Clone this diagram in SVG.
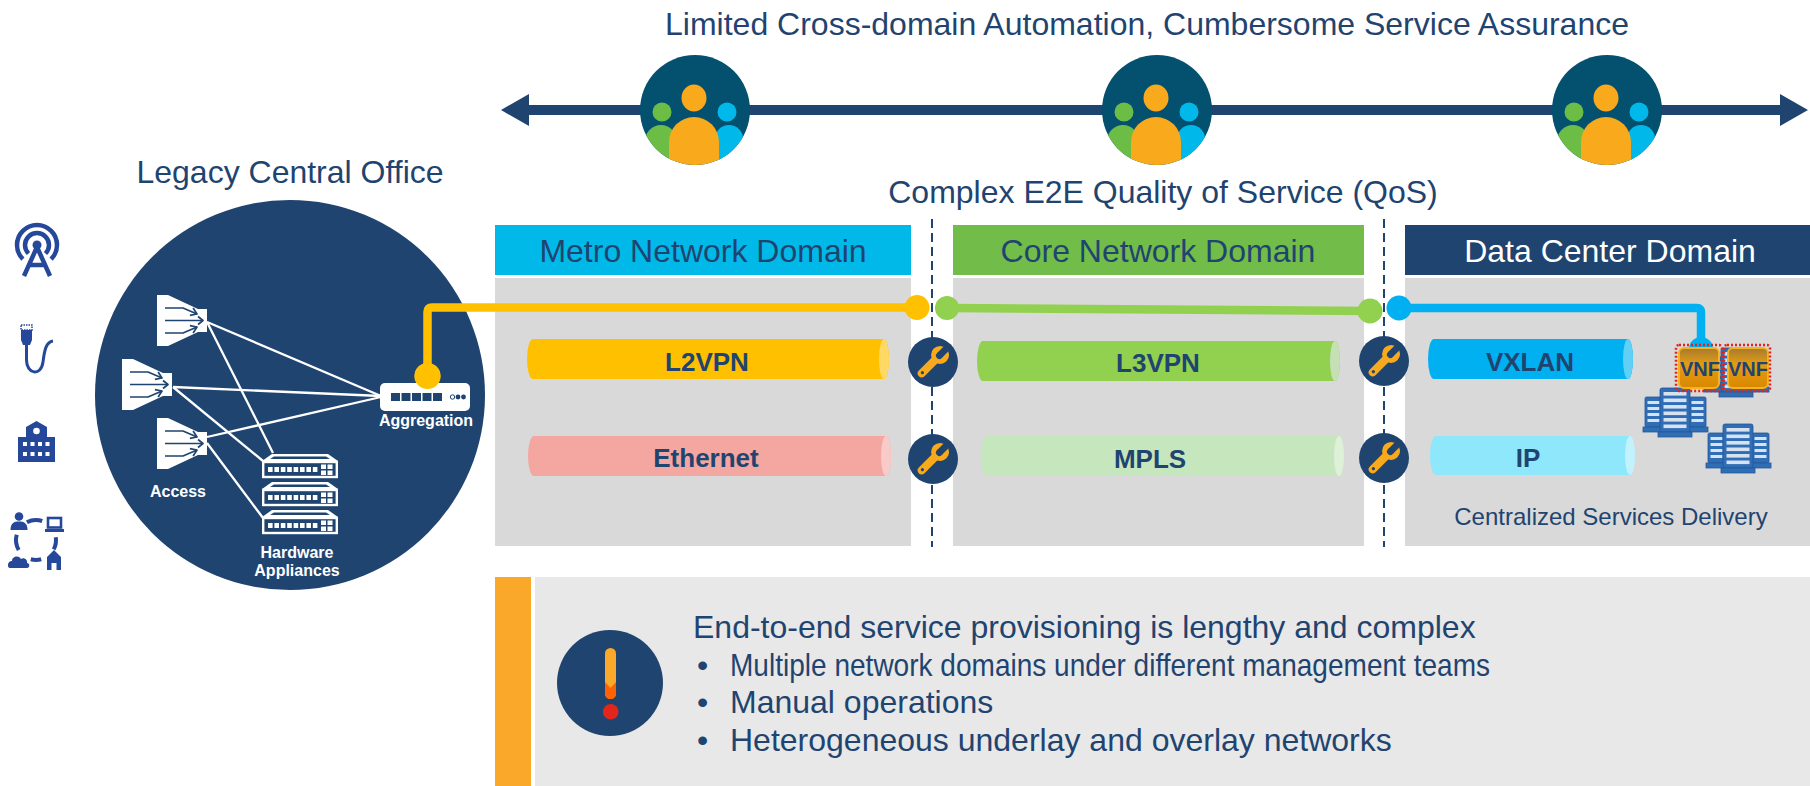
<svg xmlns="http://www.w3.org/2000/svg" xmlns:xlink="http://www.w3.org/1999/xlink" width="1810" height="786" viewBox="0 0 1810 786">
  <style>
    text { font-family: "Liberation Sans", Arial, sans-serif; }
    .t32 { font-size: 32px; fill: #1F4470; }
    .hdr { font-size: 32px; text-anchor: middle; }
    .tube-label { font-size: 26px; font-weight: bold; fill: #1F4470; text-anchor: middle; }
    .dev-label { font-size: 16px; font-weight: bold; fill: #FFFFFF; text-anchor: middle; }
    .vnf-label { font-size: 20px; font-weight: bold; fill: #1F4470; text-anchor: middle; }
    .link { stroke: #FFFFFF; stroke-width: 2.3; fill: none; }
    .divider { stroke: #1F4470; stroke-width: 2; stroke-dasharray: 9 5; fill: none; }
    .icon { fill: #26489B; }
    .icon-line { stroke: #26489B; fill: none; }
    .srv-body { fill: #2F6DB5; stroke: #25579A; stroke-width: 0.8; }
    .srv-slot { fill: #D6E2F0; }
  </style>
  <defs>
    <clipPath id="teamClip"><circle r="55"/></clipPath>
    <linearGradient id="vnfFill" x1="0" y1="0" x2="0" y2="1">
      <stop offset="0" stop-color="#A47A30"/>
      <stop offset="0.4" stop-color="#E49C14"/>
      <stop offset="1" stop-color="#D98800"/>
    </linearGradient>

    <!-- team badge on the automation axis -->
    <g id="team">
      <circle r="55" fill="#03506F"/>
      <g clip-path="url(#teamClip)">
        <path d="M-50,70 V31 A16,16 0 0 1 -18,31 V70 Z" fill="#6CBD45"/>
        <circle cx="-33" cy="2" r="9.5" fill="#6CBD45"/>
        <path d="M20,70 V29 A14,14 0 0 1 48,29 V70 Z" fill="#00B9EA"/>
        <circle cx="32" cy="2" r="9.5" fill="#00B9EA"/>
        <path d="M-26,70 V32 A25,25 0 0 1 24,32 V70 Z" fill="#F9A91C"/>
        <ellipse cx="-1" cy="-12" rx="12.5" ry="13.5" fill="#F9A91C"/>
      </g>
    </g>

    <!-- access node (funnel with converging arrows) -->
    <g id="funnel">
      <polygon points="0,0 11,0 41,14 50,14 50,37 41,37 11,51 0,51" fill="#FFFFFF"/>
      <g stroke="#1F4470" stroke-width="1.7" fill="none" stroke-linejoin="round">
        <path d="M8,13 H26 L40,19"/>
        <path d="M36.1,13 L40,19 L32.9,20.4"/>
        <path d="M8,25.5 H46"/>
        <path d="M41,21.5 L46,25.5 L41,29.5"/>
        <path d="M8,38 H26 L40,32"/>
        <path d="M32.9,30.6 L40,32 L36.1,38"/>
      </g>
    </g>

    <!-- rack appliance -->
    <g id="appliance">
      <path d="M10,0 H66 L76,7 H0 Z" fill="#FFFFFF"/>
      <path d="M12,2.6 H64 L68,5 H8 Z" fill="#1F4470"/>
      <rect x="1.2" y="8" width="73.6" height="15" fill="#1F4470" stroke="#FFFFFF" stroke-width="2.4"/>
      <g fill="#FFFFFF">
        <rect x="6" y="13" width="4.6" height="5"/>
        <rect x="12.4" y="13" width="4.6" height="5"/>
        <rect x="18.8" y="13" width="4.6" height="5"/>
        <rect x="25.2" y="13" width="4.6" height="5"/>
        <rect x="31.6" y="13" width="4.6" height="5"/>
        <rect x="38" y="13" width="4.6" height="5"/>
        <rect x="44.4" y="13" width="4.6" height="5"/>
        <rect x="50.8" y="13" width="4.6" height="5"/>
        <rect x="59" y="10.5" width="5" height="4.5"/>
        <rect x="65.5" y="10.5" width="5" height="4.5"/>
        <rect x="59" y="16.5" width="5" height="4.5"/>
        <rect x="65.5" y="16.5" width="5" height="4.5"/>
      </g>
    </g>

    <!-- management point on a domain boundary -->
    <g id="wrench">
      <circle r="25" fill="#1F4470"/>
      <g transform="rotate(-45)" fill="#F9A91C">
        <rect x="-20" y="-4" width="26" height="8" rx="4"/>
        <circle cx="10" cy="0" r="9"/>
        <rect x="9" y="-3.4" width="12" height="6.8" fill="#1F4470"/>
        <circle cx="9" cy="0" r="3.4" fill="#1F4470"/>
        <circle cx="-15" cy="0" r="1.6" fill="#1F4470"/>
      </g>
    </g>

    <!-- single server tower -->
    <g id="tower">
      <rect x="0" y="0" width="30" height="44" rx="2" class="srv-body"/>
      <g class="srv-slot">
        <rect x="3.5" y="4" width="23" height="3.6"/>
        <rect x="3.5" y="10.5" width="23" height="3.6"/>
        <rect x="3.5" y="17" width="23" height="3.6"/>
        <rect x="3.5" y="23.5" width="23" height="3.6"/>
        <rect x="3.5" y="30" width="23" height="3.6"/>
        <rect x="3.5" y="36.5" width="23" height="3.6"/>
      </g>
      <rect x="-2" y="44" width="34" height="5" class="srv-body"/>
    </g>
    <g id="side">
      <rect x="0" y="0" width="17" height="30" rx="1.5" class="srv-body"/>
      <g class="srv-slot">
        <rect x="2.5" y="4" width="12" height="3"/>
        <rect x="2.5" y="10" width="12" height="3"/>
        <rect x="2.5" y="16" width="12" height="3"/>
        <rect x="2.5" y="22" width="12" height="3"/>
      </g>
      <rect x="-2" y="30" width="21" height="5" class="srv-body"/>
    </g>
    <g id="cluster">
      <use xlink:href="#side" x="-15" y="9"/>
      <use xlink:href="#side" x="29" y="9"/>
      <use xlink:href="#tower" x="0" y="0"/>
    </g>
  </defs>

  <rect width="1810" height="786" fill="#FFFFFF"/>

  <!-- automation axis -->
  <g id="automation-axis">
    <text x="1147" y="35" class="t32" text-anchor="middle">Limited Cross-domain Automation, Cumbersome Service Assurance</text>
    <rect x="524" y="105" width="1260" height="10" fill="#1F4470"/>
    <polygon points="501,110 529,94 529,126" fill="#1F4470"/>
    <polygon points="1808,110 1780,94 1780,126" fill="#1F4470"/>
  </g>
  <g id="team-metro"><use xlink:href="#team" x="695" y="110"/></g>
  <g id="team-core"><use xlink:href="#team" x="1157" y="110"/></g>
  <g id="team-dc"><use xlink:href="#team" x="1607" y="110"/></g>

  <text id="qos-label" x="1163" y="203" class="t32" text-anchor="middle">Complex E2E Quality of Service (QoS)</text>

  <!-- access technologies -->
  <g id="access-icons">
    <g id="icon-antenna">
      <path d="M22.9,259.1 A20,20 0 1 1 51.1,259.1" class="icon-line" stroke-width="4.5"/>
      <path d="M28.5,253.5 A12,12 0 1 1 45.5,253.5" class="icon-line" stroke-width="4.5"/>
      <circle cx="37" cy="245" r="4.5" class="icon"/>
      <path d="M37,247 L24,276 M37,247 L50,276 M29,265 H45" class="icon-line" stroke-width="4.5"/>
    </g>
    <g id="icon-plug">
      <rect x="21" y="325" width="11" height="5" fill="#FFFFFF" stroke="#26489B" stroke-width="1.5" stroke-dasharray="1.5 1"/>
      <path d="M21,330 H32 V340 L30,345 H23 L21,340 Z" class="icon"/>
      <path d="M26.5,345 V360 C26.5,374 41,377 43,362 C44.5,350 46,342 53,341" class="icon-line" stroke-width="3"/>
    </g>
    <g id="icon-building">
      <path d="M18,437 H26 V427 L36.5,421 L47,427 V437 H55 V462 H18 Z" class="icon"/>
      <circle cx="36.5" cy="431" r="3.3" fill="#FFFFFF"/>
      <g fill="#FFFFFF">
        <rect x="23" y="442" width="4" height="4"/>
        <rect x="30.5" y="442" width="4" height="4"/>
        <rect x="38" y="442" width="4" height="4"/>
        <rect x="45.5" y="442" width="4" height="4"/>
        <rect x="23" y="452" width="4" height="4"/>
        <rect x="30.5" y="452" width="4" height="4"/>
        <rect x="38" y="452" width="4" height="4"/>
        <rect x="45.5" y="452" width="4" height="4"/>
      </g>
    </g>
    <g id="icon-services">
      <circle cx="19" cy="516.5" r="4.3" class="icon"/>
      <path d="M10.5,530 C10.5,523 14,521.5 19,521.5 C24,521.5 27.5,523 27.5,530 Z" class="icon"/>
      <rect x="48" y="518" width="13" height="9.5" fill="none" class="icon-line" stroke-width="2.6"/>
      <rect x="45" y="529" width="19" height="3" class="icon"/>
      <path d="M10,568 C7,568 7,561 12,561 C12,556 19,555 21,559 C24,557 28,560 27,563 C30,563 30,568 27,568 Z" class="icon"/>
      <path d="M47,557 L54,550 L61,557 V570 H56.5 V563 H51.5 V570 H47 Z" class="icon"/>
      <g class="icon-line" stroke-width="4">
        <path d="M26.9,522.2 A20,20 0 0 1 42.2,521"/>
        <path d="M55.8,537.2 A20,20 0 0 1 53.7,549.4"/>
        <path d="M41.2,559.3 A20,20 0 0 1 30.8,559.3"/>
        <path d="M18.7,550 A20,20 0 0 1 16.7,534.8"/>
      </g>
    </g>
  </g>

  <!-- legacy central office -->
  <g id="legacy-central-office">
    <text x="290" y="183" class="t32" text-anchor="middle">Legacy Central Office</text>
    <circle cx="290" cy="395" r="195" fill="#1F4470"/>
  </g>

  <!-- domain panels -->
  <g id="metro-domain">
    <rect x="495" y="225" width="416" height="50" fill="#00B9E8"/>
    <rect x="495" y="278" width="416" height="268" fill="#D9D9D9"/>
    <text x="703" y="262" class="hdr" fill="#1F4470">Metro Network Domain</text>
  </g>
  <g id="core-domain">
    <rect x="953" y="225" width="411" height="50" fill="#72BC4A"/>
    <rect x="953" y="278" width="411" height="268" fill="#D9D9D9"/>
    <text x="1158" y="262" class="hdr" fill="#1F4470">Core Network Domain</text>
  </g>
  <g id="dc-domain">
    <rect x="1405" y="225" width="405" height="50" fill="#1F4470"/>
    <rect x="1405" y="278" width="405" height="268" fill="#D9D9D9"/>
    <text x="1610" y="262" class="hdr" fill="#FFFFFF">Data Center Domain</text>
    <text x="1611" y="525" font-size="24" fill="#1F4470" text-anchor="middle">Centralized Services Delivery</text>
  </g>

  <!-- overlay / underlay tubes -->
  <g id="tube-l2vpn">
    <path d="M533,339 H884 A5,20 0 0 1 884,379 H533 A6,20 0 0 1 533,339 Z" fill="#FFC000"/>
    <ellipse cx="884" cy="359" rx="5" ry="20" fill="#FFD966"/>
    <text x="707" y="371" class="tube-label">L2VPN</text>
  </g>
  <g id="tube-ethernet">
    <path d="M534,436 H886 A5,20 0 0 1 886,476 H534 A6,20 0 0 1 534,436 Z" fill="#F4A6A1"/>
    <ellipse cx="886" cy="456" rx="5" ry="20" fill="#F8CBC8"/>
    <text x="706" y="467" class="tube-label">Ethernet</text>
  </g>
  <g id="tube-l3vpn">
    <path d="M983,341 H1335 A5,20 0 0 1 1335,381 H983 A6,20 0 0 1 983,341 Z" fill="#92D050"/>
    <ellipse cx="1335" cy="361" rx="5" ry="20" fill="#C5E0B4"/>
    <text x="1158" y="372" class="tube-label">L3VPN</text>
  </g>
  <g id="tube-mpls">
    <path d="M987,436 H1339 A5,20 0 0 1 1339,476 H987 A6,20 0 0 1 987,436 Z" fill="#C6E6BD"/>
    <ellipse cx="1339" cy="456" rx="5" ry="20" fill="#DEF0D7"/>
    <text x="1150" y="468" class="tube-label">MPLS</text>
  </g>
  <g id="tube-vxlan">
    <path d="M1434,339 H1628 A5,20 0 0 1 1628,379 H1434 A6,20 0 0 1 1434,339 Z" fill="#00B0F0"/>
    <ellipse cx="1628" cy="359" rx="5" ry="20" fill="#60D0F6"/>
    <text x="1530" y="371" class="tube-label">VXLAN</text>
  </g>
  <g id="tube-ip">
    <path d="M1436,436 H1630 A5,20 0 0 1 1630,475 H1436 A6,19.5 0 0 1 1436,436 Z" fill="#8FE7FC"/>
    <ellipse cx="1630" cy="455.5" rx="5" ry="19.5" fill="#C2F2FE"/>
    <text x="1528" y="467" class="tube-label">IP</text>
  </g>

  <!-- domain boundaries -->
  <g id="boundaries">
    <line x1="932" y1="219" x2="932" y2="547" class="divider"/>
    <line x1="1384" y1="219" x2="1384" y2="547" class="divider"/>
  </g>

  <!-- connectors -->
  <g id="connectors">
    <g id="co-links">
      <line x1="207" y1="322" x2="381" y2="396" class="link"/>
      <line x1="207" y1="322" x2="273" y2="453" class="link"/>
      <line x1="173" y1="387" x2="381" y2="396" class="link"/>
      <line x1="173" y1="387" x2="263" y2="461" class="link"/>
      <line x1="207" y1="437" x2="381" y2="397" class="link"/>
      <line x1="207" y1="443" x2="263" y2="518" class="link"/>
    </g>
    <g id="service-path">
      <path d="M427.5,376 V312 Q427.5,307.5 432,307.5 H917" stroke="#FFC000" stroke-width="8.5" fill="none"/>
      <circle cx="427.5" cy="376" r="13" fill="#FFC000"/>
      <circle cx="917" cy="307.5" r="12.5" fill="#FFC000"/>
      <line x1="947" y1="308" x2="1370" y2="311" stroke="#92D050" stroke-width="8.5"/>
      <circle cx="947" cy="308" r="12" fill="#92D050"/>
      <circle cx="1370" cy="311" r="12.5" fill="#92D050"/>
      <path d="M1399,308 H1697 Q1701,308 1701,312 V346" stroke="#00B0F0" stroke-width="8.5" fill="none"/>
      <circle cx="1399" cy="308" r="12.5" fill="#00B0F0"/>
      <circle cx="1701" cy="349" r="12" fill="#00B0F0"/>
    </g>
  </g>

  <!-- central office equipment -->
  <g id="access-nodes">
    <use xlink:href="#funnel" x="157" y="295"/>
    <use xlink:href="#funnel" x="122" y="359"/>
    <use xlink:href="#funnel" x="157" y="418"/>
    <text x="178" y="497" class="dev-label">Access</text>
  </g>
  <g id="aggregation">
    <rect x="380" y="383" width="90" height="28" rx="5" fill="#FFFFFF"/>
    <g fill="#1F4470">
      <rect x="391" y="393" width="9" height="8"/>
      <rect x="401.5" y="393" width="9" height="8"/>
      <rect x="412" y="393" width="9" height="8"/>
      <rect x="422.5" y="393" width="9" height="8"/>
      <rect x="433" y="393" width="9" height="8"/>
      <circle cx="452.5" cy="397" r="2.2" fill="none" stroke="#1F4470" stroke-width="1"/>
      <circle cx="458" cy="397" r="2.4"/>
      <circle cx="463.5" cy="397" r="2.4"/>
    </g>
    <circle cx="427.5" cy="376" r="13" fill="#FFC000"/>
    <text x="426" y="426" class="dev-label">Aggregation</text>
  </g>
  <g id="hardware-appliances">
    <use xlink:href="#appliance" x="262" y="454"/>
    <use xlink:href="#appliance" x="262" y="482"/>
    <use xlink:href="#appliance" x="262" y="510"/>
    <text x="297" y="558" class="dev-label">Hardware</text>
    <text x="297" y="576" class="dev-label">Appliances</text>
  </g>

  <!-- management points -->
  <g id="mgmt-metro-core">
    <use xlink:href="#wrench" x="933" y="362"/>
    <use xlink:href="#wrench" x="933" y="459"/>
  </g>
  <g id="mgmt-core-dc">
    <use xlink:href="#wrench" x="1384" y="361"/>
    <use xlink:href="#wrench" x="1384" y="458"/>
  </g>

  <!-- data center compute and VNFs -->
  <g id="dc-servers">
    <use xlink:href="#cluster" x="1721" y="348"/>
    <use xlink:href="#cluster" x="1660" y="388"/>
    <use xlink:href="#cluster" x="1723" y="424"/>
  </g>
  <g id="vnf-1">
    <rect x="1679" y="348" width="40" height="40" rx="5" fill="url(#vnfFill)" stroke="#F6B21F" stroke-width="2"/>
    <rect x="1676" y="345" width="46" height="46" rx="3" fill="none" stroke="#E3231B" stroke-width="2.5" stroke-dasharray="2 2"/>
    <text x="1700" y="376" class="vnf-label">VNF</text>
  </g>
  <g id="vnf-2">
    <rect x="1728" y="348" width="40" height="40" rx="5" fill="url(#vnfFill)" stroke="#F6B21F" stroke-width="2"/>
    <rect x="1724" y="345" width="46" height="46" rx="3" fill="none" stroke="#E3231B" stroke-width="2.5" stroke-dasharray="2 2"/>
    <text x="1748" y="376" class="vnf-label">VNF</text>
  </g>

  <!-- provisioning callout -->
  <g id="callout">
    <rect x="495" y="577" width="36" height="209" fill="#F9A82A"/>
    <rect x="535" y="577" width="1275" height="209" fill="#E8E8E8"/>
    <circle cx="610" cy="683" r="53" fill="#1F4470"/>
    <rect x="605" y="648" width="11" height="51" rx="5.5" fill="#FBA92A"/>
    <path d="M605,682 L610.5,688 L616,682 V693.5 A5.5,5.5 0 0 1 605,693.5 Z" fill="#FF6200"/>
    <circle cx="610.7" cy="711.7" r="7.8" fill="#E3261C"/>
    <text x="693" y="638" class="t32">End-to-end service provisioning is lengthy and complex</text>
    <text x="697" y="676" class="t32">•</text>
    <text x="730" y="676" class="t32" textLength="760" lengthAdjust="spacingAndGlyphs">Multiple network domains under different management teams</text>
    <text x="697" y="713" class="t32">•</text>
    <text x="730" y="713" class="t32">Manual operations</text>
    <text x="697" y="751" class="t32">•</text>
    <text x="730" y="751" class="t32">Heterogeneous underlay and overlay networks</text>
  </g>
</svg>
